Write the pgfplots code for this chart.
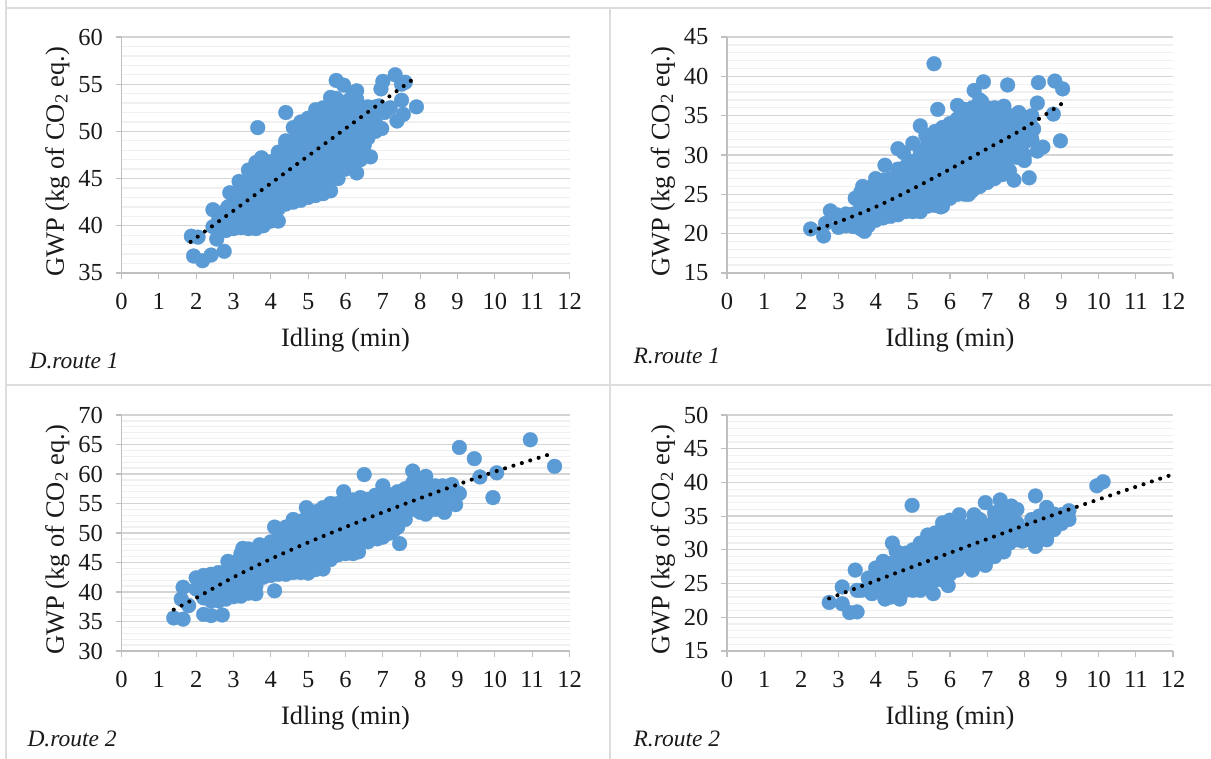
\documentclass[border=0pt]{standalone}
\usepackage{pgfplots}
\pgfplotsset{compat=1.18}
\usepackage{fontspec}
\setmainfont{Liberation Serif}
\definecolor{ptblue}{HTML}{5B9BD5}
\definecolor{majg}{HTML}{D4D4D4}
\definecolor{ming}{HTML}{F0F0F0}
\definecolor{axg}{HTML}{BFBFBF}
\definecolor{frameg}{HTML}{DDDDDD}
\pgfplotsset{
  pan/.style={
    anchor=south west, scale only axis, width=448pt, height=236pt,
    xmin=0, xmax=12, xtick={0,1,...,12},
    axis lines=left, axis line style={-,axg,line width=1.3pt},
    tick align=outside, major tick length=6pt, minor tick length=0pt,
    tick style={axg,line width=1.1pt},
    ymajorgrids, yminorgrids, minor y tick num=4,
    major grid style={majg,line width=1.3pt},
    minor grid style={ming,line width=1.3pt},
    /pgf/number format/assume math mode=true,
    tick label style={font=\fontsize{24.5}{26}\selectfont,text=black!90},
    xticklabel style={yshift=-11pt},
    yticklabel style={xshift=-9pt},
    label style={font=\fontsize{26.5}{29}\selectfont,text=black!90},
    xlabel={Idling (min)}, ylabel={GWP (kg of CO\textsubscript{2} eq.)},
    xlabel style={at={(axis description cs:0.5,0)},anchor=center,yshift=-67pt},
    ylabel style={at={(axis description cs:0,0.5)},anchor=center,xshift=-7pt,yshift=64pt},
    clip mode=individual,
  },
  pts/.style={only marks, mark=*, mark size=7.4pt, mark options={draw=ptblue,fill=ptblue,line width=0.3pt}},
  trend/.style={black, no markers, line width=4.1pt, line cap=round, dash pattern=on 0pt off 8.8pt, smooth},
}
\begin{document}
\begin{tikzpicture}
\useasboundingbox (0,0) rectangle (1211pt,759pt);
\draw[frameg,line width=1.6pt] (6pt,759pt) -- (6pt,751pt) -- (1211pt,751pt);
\draw[frameg,line width=1.6pt] (6pt,751pt) -- (6pt,0pt);
\draw[frameg,line width=1.6pt] (6pt,374pt) -- (1211pt,374pt);
\draw[frameg,line width=1.6pt] (610pt,751pt) -- (610pt,0pt);

% D.route 1
\begin{axis}[pan, at={(121.5pt,486pt)}, ymin=35, ymax=60, ytick={35,40,...,60}]
\addplot[pts] coordinates {
(1.87,38.9)(2.05,38.8)(1.93,36.8)(2.17,36.3)(2.4,36.9)(2.75,37.3)(2.45,41.7)(2.45,39.9)(2.55,38.6)(2.9,43.5)(3.65,50.4)(4.4,52)(5.75,55.4)(5.95,54.9)(6.3,54.3)(7,55.3)(6.95,54.5)(7.33,56)(7.6,55.2)(7.5,55)(7.5,53.3)(7.38,51.1)(7.55,51.8)(7.9,52.6)(7.05,52)(7.2,52.5)(6.97,50.3)(6.67,47.3)(6.3,45.6)
(2.6,39.3)(2.6,40.6)(2.7,41.4)(2.8,39.5)(2.8,40.8)(2.85,42)(3,39.7)(3,41.1)(3,42.4)(3.2,39.8)(3.2,41.2)(3.2,42.5)(3.15,43.8)(3.15,44.7)
(3.4,39.7)(3.4,41)(3.4,42.3)(3.4,43.6)(3.4,44.9)(3.4,45.9)(3.6,39.7)(3.6,41)(3.6,42.3)(3.6,43.6)(3.6,44.9)(3.6,46.2)(3.6,46.7)
(3.8,40)(3.8,41.3)(3.8,42.6)(3.8,43.9)(3.8,45.2)(3.8,46.5)(3.75,47.2)(4,40.5)(4,41.8)(4,43.1)(4,44.4)(4,45.7)(4,46.8)
(4.2,40.5)(4.2,41.8)(4.2,43.1)(4.2,44.4)(4.2,45.7)(4.2,47)(4.2,47.8)(4.4,42.3)(4.4,43.6)(4.4,44.9)(4.4,46.2)(4.4,47.5)(4.4,48.8)(4.4,49)
(4.6,42.5)(4.6,43.8)(4.6,45.1)(4.6,46.4)(4.6,47.7)(4.6,49)(4.6,50.4)(4.8,42.7)(4.8,44)(4.8,45.3)(4.8,46.6)(4.8,47.9)(4.8,49.2)(4.8,50.5)(4.8,51)
(5,43)(5,44.3)(5,45.6)(5,46.9)(5,48.2)(5,49.5)(5,50.8)(5,51.4)(5.2,43.2)(5.2,44.5)(5.2,45.8)(5.2,47.1)(5.2,48.4)(5.2,49.7)(5.2,51)(5.2,52.3)
(5.4,43.4)(5.4,44.7)(5.4,46)(5.4,47.3)(5.4,48.6)(5.4,49.9)(5.4,51.2)(5.4,52.5)(5.6,43.7)(5.6,45)(5.6,46.3)(5.6,47.6)(5.6,48.9)(5.6,50.2)(5.6,51.5)(5.6,52.8)(5.6,53.6)
(5.8,45)(5.8,46.3)(5.8,47.6)(5.8,48.9)(5.8,50.2)(5.8,51.5)(5.8,52.8)(5.75,53.5)(6,46)(6,47.3)(6,48.6)(6,49.9)(6,51.2)(6,52.5)
(6.2,46.2)(6.2,47.5)(6.2,48.8)(6.2,50.1)(6.2,51.4)(6.2,52.7)(6.2,54)(6.4,47)(6.4,48.3)(6.4,49.6)(6.4,50.9)(6.4,52.2)(6.6,49.3)(6.6,50.6)(6.6,51.9)(6.8,50)(6.8,51.3)(6.8,52.6)
(6.3,47.3)(6.5,48.5)(6.3,53.4)(6.9,52.7)(6.05,53.2)(6.6,52.6)
};
\addplot[trend] coordinates {(1.85,38.3)(3,41.6)(4,44.5)(5,47.4)(6,50.3)(7,53.2)(7.8,55.5)};
\end{axis}

% R.route 1
\begin{axis}[pan, at={(727pt,486pt)}, width=446pt, ymin=15, ymax=45, ytick={15,20,...,45}]
\addplot[pts] coordinates {
(2.25,20.6)(2.6,19.7)(2.78,22.9)(2.95,22.4)(2.65,21.3)(3,20.8)(3.45,24.5)(3.65,26)(3.7,20.3)(5.57,41.6)(5.67,35.8)(5.2,33.7)(5.35,32.5)(4.6,30.8)(4.75,30.3)(5,31.5)(4.25,28.7)(6.9,39.3)(6.65,38.2)(7.55,38.9)(8.38,39.2)(8.82,39.4)(9.03,38.4)(8.35,36.6)(8.78,35.2)(8.97,31.8)(8.5,31)(8.35,30.5)(8,29.3)(8.13,27.1)(7.72,26.8)(7.45,27.8)(6.2,36.3)(6.85,36.8)(7.45,36.2)(7.85,35.4)(8.25,33.3)(5.75,23.4)(6.5,25)
(3.2,21)(3.2,22.5)(3.4,20.9)(3.4,22.5)(3.6,20.6)(3.6,22.2)(3.6,23.8)(3.6,25.3)(3.8,21)(3.8,22.6)(3.8,24.2)(3.8,25.8)(4,21.7)(4,23.3)(4,24.9)(4,26.5)(4,27)
(4.2,22)(4.2,23.6)(4.2,25.2)(4.2,26.8)(4.4,22.2)(4.4,23.8)(4.4,25.4)(4.4,27)(4.6,22.4)(4.6,24)(4.6,25.6)(4.6,27.2)(4.6,28.2)(4.8,22.8)(4.8,24.4)(4.8,26)(4.8,27.6)(4.8,28.5)
(5,22.8)(5,24.4)(5,26)(5,27.6)(5,29.2)(5.2,22.8)(5.2,24.4)(5.2,26)(5.2,27.6)(5.2,29.2)(5.2,30.5)(5.4,23.5)(5.4,25.1)(5.4,26.7)(5.4,28.3)(5.4,29.9)(5.4,31.5)
(5.6,23.6)(5.6,25.2)(5.6,26.8)(5.6,28.4)(5.6,30)(5.6,31.6)(5.6,33)(5.8,23.5)(5.8,25.1)(5.8,26.7)(5.8,28.3)(5.8,29.9)(5.8,31.5)(5.8,33.1)(5.8,33.5)
(6,24.5)(6,26.1)(6,27.7)(6,29.3)(6,30.9)(6,32.5)(6,34)(6.2,25)(6.2,26.6)(6.2,28.2)(6.2,29.8)(6.2,31.4)(6.2,33)(6.2,34.6)(6.4,25)(6.4,26.6)(6.4,28.2)(6.4,29.8)(6.4,31.4)(6.4,33)(6.4,34.6)(6.4,35.8)
(6.6,25.5)(6.6,27.1)(6.6,28.7)(6.6,30.3)(6.6,31.9)(6.6,33.5)(6.6,35.1)(6.6,36)(6.8,26)(6.8,27.6)(6.8,29.2)(6.8,30.8)(6.8,32.4)(6.8,34)(6.8,35.6)(6.8,37)
(7,26.5)(7,28.1)(7,29.7)(7,31.3)(7,32.9)(7,34.5)(7,36)(7.2,27)(7.2,28.6)(7.2,30.2)(7.2,31.8)(7.2,33.4)(7.2,35)(7.2,36)(7.4,27.5)(7.4,29.1)(7.4,30.7)(7.4,32.3)(7.4,33.9)(7.4,35.5)
(7.6,28)(7.6,29.6)(7.6,31.2)(7.6,32.8)(7.6,34.4)(7.6,35)(7.8,29.7)(7.8,31.3)(7.8,32.9)(7.8,34.5)(8,30)(8,31.6)(8,33.2)(8,34.8)(8.2,32)(8.2,33.6)(8.2,35)
};
\addplot[trend] coordinates {(2.25,20.3)(3,21.5)(4,23.4)(5,25.7)(6,28.2)(7,30.8)(8,33.4)(9,36.5)};
\end{axis}

% D.route 2
\begin{axis}[pan, at={(121.5pt,108pt)}, ymin=30, ymax=70, ytick={30,35,...,70}]
\addplot[pts] coordinates {
(1.4,35.6)(1.65,35.4)(1.65,40.8)(1.6,38.8)(1.8,37.7)(2,42.4)(2.2,36.2)(2.4,36)(2.7,36.1)(3.6,39.7)(4.1,40.2)(2.85,45.2)(3.25,47.4)(3.7,48)(4.1,51)(4.6,52.3)(4.95,54.3)(5.95,57)(6.5,59.9)(7,58)(7.8,60.5)(8.15,59.6)(8.6,58)(8.85,58.2)(9.05,64.5)(9.45,62.6)(9.6,59.5)(10.05,60.2)(9.95,56)(10.95,65.8)(11.6,61.3)(9.05,56.7)(8.95,54.8)(8.65,55)(8.65,53.5)(8.15,53.2)(7.45,48.2)(7.6,52.3)(7.3,50.5)(6.85,49)(6.35,46.8)(6,46.5)(5.4,43.9)(5,43.2)(4.4,43)
(2,40.5)(2.2,39)(2.2,41)(2.2,42.8)(2.4,38.5)(2.4,40.5)(2.4,42.5)(2.4,43)(2.6,38.5)(2.6,40.5)(2.6,42.5)(2.6,43.3)(2.8,38.8)(2.8,40.8)(2.8,42.8)(2.8,43.5)
(3,39.2)(3,41.2)(3,43.2)(3,45)(3.2,39.3)(3.2,41.3)(3.2,43.3)(3.2,45.3)(3.2,46.5)(3.4,39.8)(3.4,41.8)(3.4,43.8)(3.4,45.8)(3.4,47.3)(3.6,41)(3.6,43)(3.6,45)(3.6,47)
(3.8,42.5)(3.8,44.5)(3.8,46.5)(3.8,47.5)(4,42.8)(4,44.8)(4,46.8)(4,48.5)(4.2,43)(4.2,45)(4.2,47)(4.2,49)(4.2,50.5)(4.4,45)(4.4,47)(4.4,49)(4.4,51)
(4.6,43.3)(4.6,45.3)(4.6,47.3)(4.6,49.3)(4.6,51.3)(4.8,43.3)(4.8,45.3)(4.8,47.3)(4.8,49.3)(4.8,51.3)(4.8,52)(5,45.3)(5,47.3)(5,49.3)(5,51.3)(5,53.3)(5,53.7)
(5.2,43.8)(5.2,45.8)(5.2,47.8)(5.2,49.8)(5.2,51.8)(5.2,53.6)(5.4,45.9)(5.4,47.9)(5.4,49.9)(5.4,51.9)(5.4,53.9)(5.4,54.3)(5.6,45.5)(5.6,47.5)(5.6,49.5)(5.6,51.5)(5.6,53.5)(5.6,55)
(5.8,46.3)(5.8,48.3)(5.8,50.3)(5.8,52.3)(5.8,54.3)(5.8,55)(6,48.5)(6,50.5)(6,52.5)(6,54.5)(6,55.5)(6.2,46.5)(6.2,48.5)(6.2,50.5)(6.2,52.5)(6.2,54.5)(6.2,55.6)(6.4,48.9)(6.4,50.9)(6.4,52.9)(6.4,54.9)(6.4,56)
(6.6,48.5)(6.6,50.5)(6.6,52.5)(6.6,54.5)(6.6,55.7)(6.8,51)(6.8,53)(6.8,55)(6.8,56.4)(7,49.3)(7,51.3)(7,53.3)(7,55.3)(7,57)(7.2,50)(7.2,52)(7.2,54)(7.2,56)(7.2,56.5)
(7.4,51)(7.4,53)(7.4,55)(7.4,57)(7.6,54)(7.6,56)(7.6,57.5)(7.8,54)(7.8,56)(7.8,58)(7.8,58.5)(8,53.5)(8,55.5)(8,57.5)(8,59)(8.2,55.5)(8.2,57.5)(8.2,58)(8.4,54)(8.4,56)(8.4,58)(8.6,57)(8.8,57)(8.8,58)
};
\addplot[trend] coordinates {(1.4,37)(2,39)(3,42.5)(4,45.6)(5,48.4)(6,51)(7,53.5)(8,55.9)(9,58.2)(10,60.4)(11,62.4)(11.6,63.6)};
\end{axis}

% R.route 2
\begin{axis}[pan, at={(727pt,108pt)}, width=446pt, ymin=15, ymax=50, ytick={15,20,...,50}]
\addplot[pts] coordinates {
(2.75,22.2)(3.1,24.5)(3.1,22)(3.3,20.7)(3.5,20.8)(3.45,27)(3.5,24)(4.45,31)(4.55,29.8)(4.98,36.6)(5.8,34)(6.25,35.2)(6.65,35.2)(6.95,37)(7.35,37.4)(7.65,36.5)(7.8,36)(8.3,38)(8.6,36.3)(8.8,35.3)(9.2,35.8)(9,35.2)(9.2,34.5)(9,33.9)(9.95,39.5)(10.12,40.1)(8.3,30.5)(8.6,31.5)(7.95,31.3)(7.45,29.7)(6.95,27.7)(6.6,27)(5.95,24.7)(5.55,23.5)(4.65,22.7)(4.25,22.7)(3.9,23.5)
(3.6,24)(3.8,24)(3.8,25.8)(4,25.3)(4,27.3)(4.2,24.5)(4.2,26.3)(4.2,28.3)(4.4,23)(4.4,24.8)(4.4,26.6)(4.4,28)(4.6,23)(4.6,24.8)(4.6,26.6)(4.6,28)
(4.8,24)(4.8,25.8)(4.8,27.6)(4.8,29.5)(5,24)(5,25.8)(5,27.6)(5,29.4)(5,30)(5.2,24)(5.2,25.8)(5.2,27.6)(5.2,29.4)(5.2,31)(5.4,25)(5.4,26.8)(5.4,28.6)(5.4,30.4)(5.4,32.2)
(5.6,25.5)(5.6,27.3)(5.6,29.1)(5.6,30.9)(5.6,32.5)(5.8,25.5)(5.8,27.3)(5.8,29.1)(5.8,30.9)(5.8,32.7)(6,26.4)(6,28.2)(6,30)(6,31.8)(6,33.6)(6,34.4)
(6.2,27)(6.2,28.8)(6.2,30.6)(6.2,32.4)(6.2,34)(6.4,28)(6.4,29.8)(6.4,31.6)(6.4,33.4)(6.6,28.5)(6.6,30.3)(6.6,32.1)(6.6,33.9)(6.8,28)(6.8,29.8)(6.8,31.6)(6.8,33.4)(6.8,34.5)
(7,28.5)(7,30.3)(7,32.1)(7,33.5)(7.2,29)(7.2,30.8)(7.2,32.6)(7.2,34.4)(7.2,35.5)(7.4,30)(7.4,31.8)(7.4,33.6)(7.4,35.4)(7.4,36)(7.6,31)(7.6,32.8)(7.6,34.6)(7.6,35.5)
(7.8,31.5)(7.8,33.3)(7.8,34)(8,31.5)(8,33)(8.2,31.5)(8.2,33.3)(8.2,34.5)(8.4,32)(8.4,33.8)(8.4,35)(8.6,32)(8.6,33.8)(8.6,35.5)(8.8,33)(8.8,35)
};
\addplot[trend] coordinates {(2.75,22.8)(5,27.5)(7,31.6)(9,35.6)(12,41.2)};
\end{axis}

\node[font=\fontsize{23.5}{26}\selectfont\itshape,text=black!90,anchor=west] at (26pt,398pt) {D.route 1};
\node[font=\fontsize{23.5}{26}\selectfont\itshape,text=black!90,anchor=west] at (630pt,403pt) {R.route 1};
\node[font=\fontsize{23.5}{26}\selectfont\itshape,text=black!90,anchor=west] at (24pt,20pt) {D.route 2};
\node[font=\fontsize{23.5}{26}\selectfont\itshape,text=black!90,anchor=west] at (630pt,20pt) {R.route 2};
\end{tikzpicture}
\end{document}
